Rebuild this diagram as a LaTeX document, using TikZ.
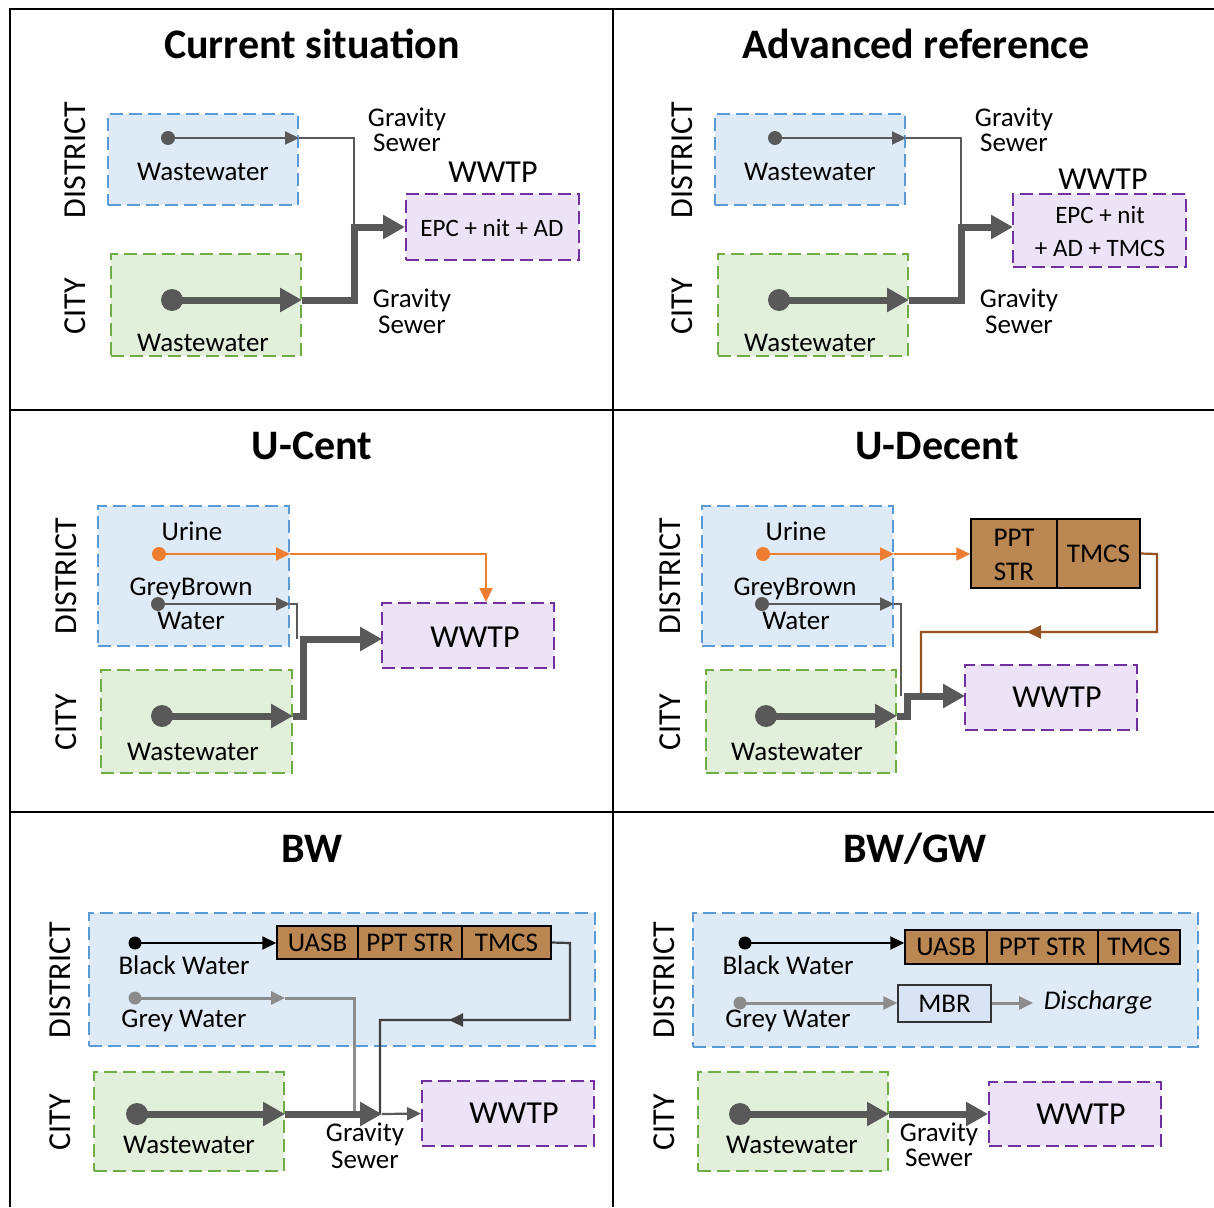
\documentclass[tikz,border=0pt]{standalone}
\usepackage{fontspec}
\setmainfont{Carlito}
\usetikzlibrary{arrows.meta}
\definecolor{distF}{RGB}{222,234,246}
\definecolor{distB}{RGB}{91,155,213}
\definecolor{cityF}{RGB}{226,239,218}
\definecolor{cityB}{RGB}{112,173,71}
\definecolor{wwF}{RGB}{237,227,246}
\definecolor{wwB}{RGB}{112,48,160}
\definecolor{procF}{RGB}{186,134,82}
\definecolor{flowG}{RGB}{89,89,89}
\definecolor{lightG}{RGB}{140,140,140}
\definecolor{darkL}{RGB}{64,64,64}
\definecolor{orng}{RGB}{237,125,49}
\definecolor{brn}{RGB}{150,82,32}
\definecolor{mbrF}{RGB}{218,227,243}
\newcommand{\mkbox}[6]{\node[#1, minimum width={(#5)-(#3)}, minimum height={(#6)-(#4)}] (#2) at ({((#3)+(#5))/2},{((#4)+(#6))/2}) {};}
\tikzset{
  tipS/.tip={Triangle[length=14pt,width=13pt]},
  tipL/.tip={Triangle[length=22pt,width=23pt]},
  frame/.style={draw=black, line width=2.5pt},
  dbox/.style={draw=distB, fill=distF, line width=2pt, dash pattern=on 13pt off 6pt, inner sep=0pt},
  cbox/.style={draw=cityB, fill=cityF, line width=2pt, dash pattern=on 13pt off 6pt, inner sep=0pt},
  wbox/.style={draw=wwB, fill=wwF, line width=2pt, dash pattern=on 13pt off 6pt, inner sep=0pt},
  proc/.style={draw=black, fill=procF, line width=1.5pt, inner sep=0pt, text height=17.3pt, text depth=0pt, font=\fontsize{27}{30}\selectfont},
  mbr/.style={draw=black!80, fill=mbrF, line width=1.5pt, inner sep=0pt, text height=17.3pt, text depth=0pt, font=\fontsize{27}{30}\selectfont},
  lb/.style={inner sep=0pt, text height=17.3pt, text depth=0pt, font=\fontsize{27}{30}\selectfont},
  lsm/.style={inner sep=0pt, text height=16.1pt, text depth=0pt, font=\fontsize{25}{28}\selectfont},
  lbig/.style={inner sep=0pt, text height=20.6pt, text depth=0pt, font=\fontsize{32}{36}\selectfont},
  side/.style={lbig, rotate=90},
  ttl/.style={inner sep=0pt, text height=27pt, text depth=0pt, font=\bfseries\fontsize{42}{46}\selectfont},
  tline/.style={draw=flowG, line width=2.2pt},
  tflow/.style={tline, -tipS},
  kline/.style={draw=flowG, line width=7pt, line join=miter},
  kflow/.style={kline, -tipL},
  oline/.style={draw=orng, line width=2.2pt},
  oflow/.style={oline, -tipS},
  bline/.style={draw=brn, line width=2.2pt},
  blkflow/.style={draw=black, line width=2.2pt, -tipS},
  dline/.style={draw=darkL, line width=2.2pt},
  gline/.style={draw=lightG, line width=3pt},
  gflow/.style={gline, -tipS},
}
\begin{document}
\begin{tikzpicture}[x=1pt,y=-1pt]
\useasboundingbox (0,0) rectangle (1214,1207);
% ---------- frame ----------
\draw[frame] (10,1207) -- (10,9) -- (1214,9);
\draw[frame] (613,9) -- (613,1207);
\draw[frame] (10,410) -- (1214,410);
\draw[frame] (10,812) -- (1214,812);

% ========== Panel 1: Current situation ==========
\mkbox{dbox}{d1}{108}{114}{298}{205}
\mkbox{cbox}{c1}{111}{254}{301}{356}
\mkbox{wbox}{w1}{406}{194}{579}{260}
\node[ttl] (t1) at (312,45) {Current situation};
\node[side] (s1a) at (75,160) {DISTRICT};
\node[side] (s1b) at (75,306) {CITY};
\node[lb] (l1a) at (203,172) {Wastewater};
\node[lb] (l1b) at (203,343) {Wastewater};
\node[lb] (g1a) at (407,118) {Gravity};
\node[lb] (g1b) at (407,143) {Sewer};
\node[lb] (g1c) at (412,299) {Gravity};
\node[lb] (g1d) at (412,325) {Sewer};
\node[lbig] (ww1) at (493,172) {WWTP};
\node[lsm] (e1) at (492,228) {EPC + nit + AD};
\coordinate (p1a) at (168,138);
\coordinate (p1b) at (172,300);
\coordinate (j1a) at (354,138);
\coordinate (j1b) at (354,300);
\fill[flowG] (p1a) circle (7pt);
\draw[tflow] (p1a) -- (p1a -| d1.east);
\draw[tline] (p1a -| d1.east) -- (j1a) -- (j1a |- w1.west);
\fill[flowG] (p1b) circle (11pt);
\draw[kflow] (p1b) -- (p1b -| c1.east);
\draw[kline,-tipL] (p1b -| c1.east) -- (j1b) -- (j1b |- w1.west) -- (w1.west);

% ========== Panel 2: Advanced reference ==========
\mkbox{dbox}{d2}{715}{114}{905}{205}
\mkbox{cbox}{c2}{718}{254}{908}{356}
\mkbox{wbox}{w2}{1013}{194}{1186}{267}
\node[ttl] (t2) at (916,45) {Advanced reference};
\node[side] (s2a) at (682,160) {DISTRICT};
\node[side] (s2b) at (682,306) {CITY};
\node[lb] (l2a) at (810,172) {Wastewater};
\node[lb] (l2b) at (810,343) {Wastewater};
\node[lb] (g2a) at (1014,118) {Gravity};
\node[lb] (g2b) at (1014,143) {Sewer};
\node[lb] (g2c) at (1019,299) {Gravity};
\node[lb] (g2d) at (1019,325) {Sewer};
\node[lbig] (ww2) at (1103,179) {WWTP};
\node[lsm] (e2a) at (1100,215) {EPC + nit};
\node[lsm] (e2b) at (1100,248) {+ AD + TMCS};
\coordinate (p2a) at (775,138);
\coordinate (p2b) at (779,300);
\coordinate (j2a) at (961,138);
\coordinate (j2b) at (961,300);
\coordinate (a2) at (1013,227);
\fill[flowG] (p2a) circle (7pt);
\draw[tflow] (p2a) -- (p2a -| d2.east);
\draw[tline] (p2a -| d2.east) -- (j2a) -- (j2a |- a2);
\fill[flowG] (p2b) circle (11pt);
\draw[kflow] (p2b) -- (p2b -| c2.east);
\draw[kline,-tipL] (p2b -| c2.east) -- (j2b) -- (j2b |- a2) -- (a2);

% ========== Panel 3: U-Cent ==========
\mkbox{dbox}{d3}{98}{506}{289}{646}
\mkbox{cbox}{c3}{101}{670}{292}{773}
\mkbox{wbox}{w3}{382}{603}{554}{668}
\node[ttl] (t3) at (312,446) {U-Cent};
\node[side] (s3a) at (66,576) {DISTRICT};
\node[side] (s3b) at (66,722) {CITY};
\node[lb] (u3l) at (192,532) {Urine};
\node[lb] (gb3a) at (191,587) {GreyBrown};
\node[lb] (gb3b) at (191,621) {Water};
\node[lb] (l3) at (193,752) {Wastewater};
\node[lbig] (ww3) at (475,637) {WWTP};
\coordinate (u3) at (159,554);
\coordinate (q3) at (486,554);
\coordinate (g3) at (158,604);
\coordinate (h3) at (297,604);
\coordinate (k3) at (162,716);
\coordinate (m3) at (303,716);
\coordinate (a3) at (382,639);
\fill[orng] (u3) circle (7pt);
\draw[oflow] (u3) -- (u3 -| d3.east);
\draw[oline,-tipS] (u3 -| d3.east) -- (q3) -- (q3 |- w3.north);
\fill[flowG] (g3) circle (7pt);
\draw[tflow] (g3) -- (g3 -| d3.east);
\draw[tline] (g3 -| d3.east) -- (h3) -- (h3 |- a3);
\fill[flowG] (k3) circle (11pt);
\draw[kflow] (k3) -- (k3 -| c3.east);
\draw[kline,-tipL] (k3 -| c3.east) -- (m3) -- (m3 |- a3) -- (a3);

% ========== Panel 4: U-Decent ==========
\mkbox{dbox}{d4}{702}{506}{893}{646}
\mkbox{cbox}{c4}{706}{670}{896}{773}
\mkbox{wbox}{w4}{965}{665}{1137}{730}
\node[proc, minimum width=86pt, minimum height=69pt] (pp4) at (1014,553.5) {};
\node[proc, minimum width=83pt, minimum height=69pt] (tm4) at (1098.5,553.5) {TMCS};
\node[lb] (pp4a) at (1014,538) {PPT};
\node[lb] (pp4b) at (1014,572) {STR};
\node[ttl] (t4) at (937,446) {U-Decent};
\node[side] (s4a) at (670,576) {DISTRICT};
\node[side] (s4b) at (670,722) {CITY};
\node[lb] (u4l) at (796,532) {Urine};
\node[lb] (gb4a) at (795,587) {GreyBrown};
\node[lb] (gb4b) at (796,621) {Water};
\node[lb] (l4) at (797,752) {Wastewater};
\node[lbig] (ww4) at (1057,697) {WWTP};
\coordinate (u4) at (763,554);
\coordinate (g4) at (762,604);
\coordinate (h4) at (901,604);
\coordinate (k4) at (766,716);
\coordinate (m4) at (907,716);
\coordinate (a4) at (965,696);
\coordinate (r4) at (1157,554);
\coordinate (r4b) at (1157,632);
\coordinate (r4c) at (921,632);
\coordinate (r4m) at (1062,632);
\coordinate (r4t) at (1027,632);
\fill[orng] (u4) circle (7pt);
\draw[oflow] (u4) -- (u4 -| d4.east);
\draw[oflow] (u4 -| d4.east) -- (u4 -| pp4.west);
\draw[bline] (tm4.east) -- (r4) -- (r4b) -- (r4c) -- (r4c |- a4);
\draw[bline,-tipS] (r4m) -- (r4t);
\fill[flowG] (g4) circle (7pt);
\draw[tflow] (g4) -- (g4 -| d4.east);
\draw[tline] (g4 -| d4.east) -- (h4) -- (h4 |- a4);
\fill[flowG] (k4) circle (11pt);
\draw[kflow] (k4) -- (k4 -| c4.east);
\draw[kline,-tipL] (k4 -| c4.east) -- (m4) -- (m4 |- a4) -- (a4);

% ========== Panel 5: BW ==========
\mkbox{dbox}{d5}{89}{913}{595}{1046}
\mkbox{cbox}{c5}{94}{1072}{284}{1171}
\mkbox{wbox}{w5}{422}{1081}{594}{1146}
\node[proc, minimum width=81pt, minimum height=33pt] (ua5) at (317.5,942.5) {UASB};
\node[proc, minimum width=104pt, minimum height=33pt] (ps5) at (410,942.5) {PPT STR};
\node[proc, minimum width=89pt, minimum height=33pt] (tm5) at (506.5,942.5) {TMCS};
\node[ttl] (t5) at (312,849) {BW};
\node[side] (s5a) at (60,980) {DISTRICT};
\node[side] (s5b) at (60,1122) {CITY};
\node[lb] (bw5) at (184,966) {Black Water};
\node[lb] (gw5) at (184,1019) {Grey Water};
\node[lb] (l5) at (189,1145) {Wastewater};
\node[lb] (g5a) at (365,1133) {Gravity};
\node[lb] (g5b) at (365,1160) {Sewer};
\node[lbig] (ww5) at (514,1113) {WWTP};
\coordinate (b5) at (135,943);
\coordinate (r5) at (570,943);
\coordinate (r5b) at (570,1020);
\coordinate (r5c) at (380,1020);
\coordinate (r5m) at (484,1020);
\coordinate (r5t) at (449,1020);
\coordinate (gy5) at (135,998);
\coordinate (gy5e) at (285,998);
\coordinate (gy5j) at (354,998);
\coordinate (k5) at (137,1114);
\coordinate (m5) at (382,1114);
\fill[black] (b5) circle (6.5pt);
\draw[blkflow] (b5) -- (b5 -| ua5.west);
\draw[dline] (tm5.east) -- (r5) -- (r5b) -- (r5c) -- (r5c |- m5);
\draw[dline,-tipS] (r5m) -- (r5t);
\fill[lightG] (gy5) circle (6.5pt);
\draw[gflow] (gy5) -- (gy5e);
\draw[gline] (gy5e) -- (gy5j) -- (gy5j |- m5);
\fill[flowG] (k5) circle (11pt);
\draw[kflow] (k5) -- (k5 -| c5.east);
\draw[kflow] (k5 -| c5.east) -- (m5);
\draw[tflow] (m5) -- (w5.west);

% ========== Panel 6: BW/GW ==========
\mkbox{dbox}{d6}{693}{913}{1198}{1047}
\mkbox{cbox}{c6}{698}{1072}{888}{1171}
\mkbox{wbox}{w6}{989}{1082}{1161}{1146}
\node[proc, minimum width=82pt, minimum height=34pt] (ua6) at (946,947) {UASB};
\node[proc, minimum width=111pt, minimum height=34pt] (ps6) at (1042.5,947) {PPT STR};
\node[proc, minimum width=82pt, minimum height=34pt] (tm6) at (1139,947) {TMCS};
\node[mbr, minimum width=93pt, minimum height=37pt] (mb6) at (944.5,1003.5) {MBR};
\node[ttl] (t6) at (915,849) {BW/GW};
\node[side] (s6a) at (664,980) {DISTRICT};
\node[side] (s6b) at (664,1122) {CITY};
\node[lb] (bw6) at (788,966) {Black Water};
\node[lb] (gw6) at (788,1019) {Grey Water};
\node[lb] (l6) at (792,1145) {Wastewater};
\node[lb] (g6a) at (939,1133) {Gravity};
\node[lb] (g6b) at (939,1158) {Sewer};
\node[lb, font=\itshape\fontsize{27}{30}\selectfont] (dc6) at (1098,1001) {Discharge};
\node[lbig] (ww6) at (1081,1114) {WWTP};
\coordinate (b6) at (745,943);
\coordinate (gy6) at (740,1003);
\coordinate (dc6e) at (1033,1003);
\coordinate (k6) at (740,1114);
\fill[black] (b6) circle (6.5pt);
\draw[blkflow] (b6) -- (b6 -| ua6.west);
\fill[lightG] (gy6) circle (6.5pt);
\draw[gflow] (gy6) -- (gy6 -| mb6.west);
\draw[gflow] (gy6 -| mb6.east) -- (dc6e);
\fill[flowG] (k6) circle (11pt);
\draw[kflow] (k6) -- (k6 -| c6.east);
\draw[kflow] (k6 -| c6.east) -- (w6.west);
\end{tikzpicture}
\end{document}
